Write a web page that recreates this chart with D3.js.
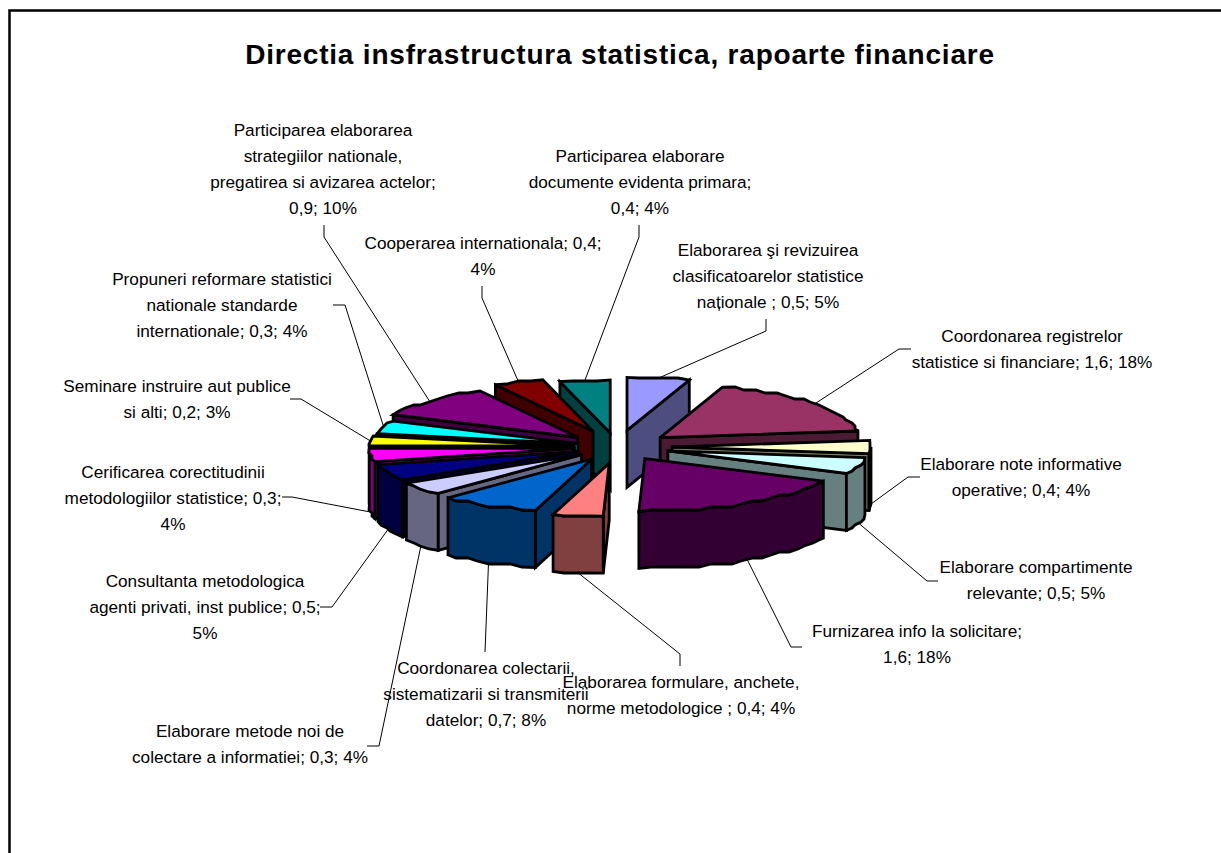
<!DOCTYPE html>
<html>
<head>
<meta charset="utf-8">
<script src="https://cdnjs.cloudflare.com/ajax/libs/d3/7.8.5/d3.min.js"></script>
<style>
  body { margin: 0; background: #fff; }
  text { font-family: "Liberation Sans", Arial, sans-serif; fill: #000; }
</style>
</head>
<body>
<div id="chart"></div>
<script>
var titleText = "Directia insfrastructura statistica, rapoarte financiare";

// percentage shares, clockwise from 12 o'clock
var shares = [5, 18, 4, 5, 18, 4, 8, 4, 5, 4, 3, 4, 10, 4, 4];
var values = ["0,5", "1,6", "0,4", "0,5", "1,6", "0,4", "0,7", "0,3", "0,5", "0,3", "0,2", "0,3", "0,9", "0,4", "0,4"];
var colors = ["#9999FF", "#993366", "#FFFFCC", "#CCFFFF", "#660066", "#FF8080", "#0066CC", "#CCCCFF",
              "#000080", "#FF00FF", "#FFFF00", "#00FFFF", "#800080", "#800000", "#008080"];

// label text, already wrapped the way the chart wraps it
var labels = [
  ["Elaborarea şi revizuirea", "clasificatoarelor statistice", "naționale ; 0,5; 5%"],
  ["Coordonarea registrelor", "statistice si financiare; 1,6; 18%"],
  ["Elaborare note informative", "operative; 0,4; 4%"],
  ["Elaborare compartimente", "relevante; 0,5; 5%"],
  ["Furnizarea info la solicitare;", "1,6; 18%"],
  ["Elaborarea formulare, anchete,", "norme metodologice ; 0,4; 4%"],
  ["Coordonarea colectarii,", "sistematizarii si transmiterii", "datelor; 0,7; 8%"],
  ["Elaborare metode noi de", "colectare a informatiei; 0,3; 4%"],
  ["Consultanta metodologica", "agenti privati, inst publice; 0,5;", "5%"],
  ["Cerificarea corectitudinii", "metodologiilor statistice; 0,3;", "4%"],
  ["Seminare instruire aut publice", "si alti; 0,2; 3%"],
  ["Propuneri reformare statistici", "nationale standarde", "internationale; 0,3; 4%"],
  ["Participarea elaborarea", "strategiilor nationale,", "pregatirea si avizarea actelor;", "0,9; 10%"],
  ["Cooperarea internationala; 0,4;", "4%"],
  ["Participarea elaborare", "documente evidenta primara;", "0,4; 4%"]
];

// layout, hand placed: how far each slice is pulled out, label anchor, leader elbow
var explode = [64, 56, 55, 53, 52, 62, 53, 46, 43, 43, 43, 41, 54, 65, 54];
var labelAt = [[768, 256], [1032, 342], [1021, 470], [1036, 573], [917, 637], [681, 688], [486, 674], [250, 737],
               [205, 587], [173, 478], [177, 392], [222, 285], [323, 136], [483, 249], [640, 162]];
var leaderAt = [
  [[766, 319], [766, 331]], [[911, 349], [899, 349]], [[920, 477], [908, 477]], [[938, 581], [927, 581]],
  [[802, 647], [791, 647]], [[680, 666], [680, 654]], [[485, 652]], [[367, 746], [379, 746]],
  [[320, 607], [332, 607]], [[282, 497], [292, 497]], [[290, 399], [301, 399]], [[333, 305], [345, 305]],
  [[324, 225], [324, 237]], [[482, 286], [482, 298]], [[639, 225], [639, 237]]
];

var width = 1221, height = 853;
var cx = 617, cy = 447,
    rx = 202, ry = 53,
    tilt = ry / rx,
    depth = 57,
    lean = 6;   // the front of the pie sits a little left of the back

var svg = d3.select("#chart").append("svg")
    .attr("width", width)
    .attr("height", height)
    .style("display", "block");

// chart frame, the right and bottom edges fall outside the picture
svg.append("path")
    .attr("d", "M" + width + ",10.5H9.5V" + height)
    .attr("fill", "none")
    .attr("stroke", "#000")
    .attr("stroke-width", 2.5);

svg.append("text")
    .attr("x", 620)
    .attr("y", 64)
    .attr("text-anchor", "middle")
    .style("font-size", "28px")
    .style("letter-spacing", "0.8px")
    .style("font-weight", "bold")
    .text(titleText);

var pie = d3.pie()
    .sort(null)
    .value(function(d) { return d; });

var slices = pie(shares);

slices.forEach(function(d, i) {
  d.i = i;
  d.mid = (d.startAngle + d.endAngle) / 2;
  d.ax = cx + explode[i] * Math.sin(d.mid);
  d.ay = cy - explode[i] * Math.cos(d.mid) * tilt;
});

// point on the rim of a slice, a = angle clockwise from the top
function rim(d, a, dz) {
  return [d.ax + rx * Math.sin(a) - lean * (1 - Math.cos(a)) / 2, d.ay - ry * Math.cos(a) + (dz || 0)];
}

// the original rim is stepped, not a clean ellipse
function rimPoints(d, a0, a1, dz) {
  var n = Math.max(1, Math.round((a1 - a0) / (3.5 * Math.PI / 180))), pts = [];
  for (var k = 0; k <= n; k++) {
    var p = rim(d, a0 + (a1 - a0) * k / n, dz);
    if (k > 0 && k < n) p = [Math.round(p[0] / 3) * 3, Math.round(p[1] / 3) * 3];
    pts.push(p);
  }
  return pts;
}

var poly = d3.line();

function darker(c) {
  var r = d3.rgb(c);
  return d3.rgb(r.r * 0.5, r.g * 0.5, r.b * 0.5).formatHex();
}

var pieG = svg.append("g");

function face(pts, fill) {
  pieG.append("path")
      .attr("d", poly(pts) + "Z")
      .attr("fill", fill)
      .attr("stroke", "#000")
      .attr("stroke-width", 2.8)
      .attr("stroke-linejoin", "miter")
      .attr("stroke-miterlimit", 3);
}

// back slices first, the front ones cover them
slices.slice().sort(function(a, b) { return Math.cos(b.mid) - Math.cos(a.mid); }).forEach(function(d) {
  var side = darker(colors[d.i]),
      a = [d.ax, d.ay],
      low = [d.ax, d.ay + depth];

  if (d.startAngle > Math.PI - 1e-6) {
    face([a, rim(d, d.startAngle), rim(d, d.startAngle, depth), low], side);
  }
  if (d.endAngle < Math.PI - 1e-6) {
    face([a, rim(d, d.endAngle), rim(d, d.endAngle, depth), low], side);
  }

  var a0 = Math.max(d.startAngle, Math.PI / 2),
      a1 = Math.min(d.endAngle, 3 * Math.PI / 2);
  if (a1 > a0) {
    face(rimPoints(d, a0, a1, 0).concat(rimPoints(d, a0, a1, depth).reverse()), side);
  }

  face([a].concat(rimPoints(d, d.startAngle, d.endAngle, 0)), colors[d.i]);
});

// leaders, those of the front slices start at the bottom of the rim
svg.append("g").selectAll("path")
    .data(slices)
    .enter()
    .append("path")
    .attr("d", function(d) {
      var end = rim(d, d.mid, Math.cos(d.mid) < 0.01 ? depth : 0);
      return poly(leaderAt[d.i].concat([end]));
    })
    .attr("fill", "none")
    .attr("stroke", "#000")
    .attr("stroke-width", 1);

// labels
var label = svg.append("g").selectAll("text")
    .data(slices)
    .enter()
    .append("text")
    .attr("text-anchor", "middle")
    .style("font-size", "17.2px");

label.selectAll("tspan")
    .data(function(d) {
      return labels[d.i].map(function(t, k) { return { t: t, k: k, i: d.i }; });
    })
    .enter()
    .append("tspan")
    .attr("x", function(d) { return labelAt[d.i][0]; })
    .attr("y", function(d) { return labelAt[d.i][1] + d.k * 26; })
    .text(function(d) { return d.t; });
</script>
</body>
</html>
